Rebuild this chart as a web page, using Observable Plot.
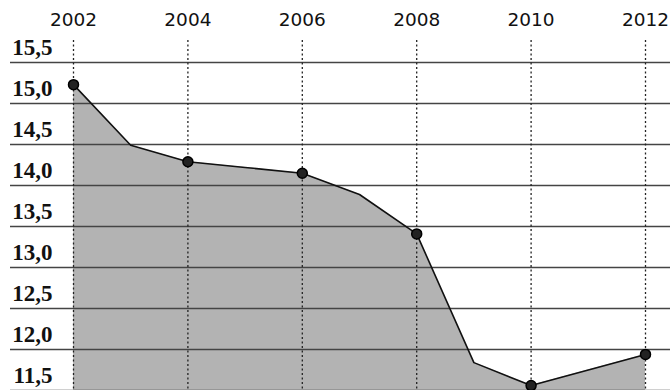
<!DOCTYPE html>
<html>
<head>
<meta charset="utf-8">
<script src="https://cdn.jsdelivr.net/npm/d3@7"></script>
<script src="https://cdn.jsdelivr.net/npm/@observablehq/plot@0.6"></script>
<style>
  html, body { margin: 0; padding: 0; background: #fff; }
</style>
</head>
<body>
<div id="chart"></div>
<script>
// Data
const years = [2002, 2003, 2004, 2005, 2006, 2007, 2008, 2009, 2010, 2011, 2012];
const values = [15.23, 14.49, 14.29, 14.22, 14.15, 13.89, 13.41, 11.84, 11.56, 11.75, 11.94];
const markedYears = [2002, 2004, 2006, 2008, 2010, 2012];
const yTicks = [11.5, 12.0, 12.5, 13.0, 13.5, 14.0, 14.5, 15.0, 15.5];

const data = years.map((y, i) => ({year: y, value: values[i]}));
const marked = data.filter(d => markedYears.includes(d.year));
const fmt = v => v.toFixed(1).replace(".", ",");

const chart = Plot.plot({
  width: 670,
  height: 390,
  marginLeft: 73,
  marginRight: 25,
  marginTop: 62,
  marginBottom: 0,
  x: {domain: [2002, 2012], label: null, axis: null},
  y: {domain: [11.5, 15.5], label: null, axis: null},
  marks: [
    Plot.areaY(data, {x: "year", y1: 11.3, y2: "value", fill: "#b3b3b3", curve: "linear"}),
    Plot.ruleY(yTicks, {stroke: "#444", strokeWidth: 1.4, insetLeft: -63, insetRight: -25}),
    Plot.ruleX(markedYears, {y1: 11.3, y2: 15.8, stroke: "#222", strokeWidth: 1.3, strokeDasharray: "2,2.5"}),
    Plot.line(data, {x: "year", y: "value", stroke: "#111", strokeWidth: 1.6}),
    Plot.dot(marked, {x: "year", y: "value", r: 5, fill: "#222", stroke: "#000", strokeWidth: 1.5}),
    Plot.text(markedYears, {x: d => d, frameAnchor: "top", lineAnchor: "middle", dy: -42,
      text: d => String(d), fontSize: 18.5, fontFamily: "DejaVu Sans", fill: "#111"}),
    Plot.text(yTicks, {y: d => d, frameAnchor: "left", textAnchor: "end", dx: -21, dy: -15,
      text: fmt, fontSize: 23, fontFamily: "Liberation Serif", fontWeight: "bold", fill: "#111"})
  ]
});
chart.style.overflow = "visible";
document.getElementById("chart").append(chart);
</script>
</body>
</html>
